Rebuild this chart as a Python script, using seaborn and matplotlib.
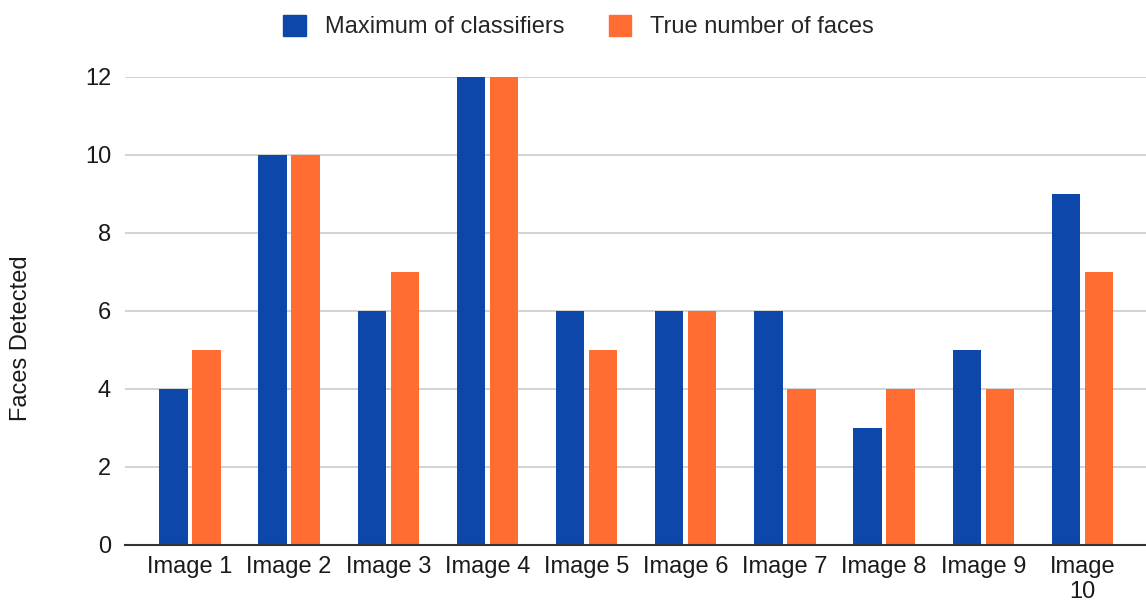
import matplotlib
matplotlib.use("Agg")
import matplotlib.pyplot as plt
import seaborn as sns
import pandas as pd
from matplotlib.patches import Patch

images = ["Image 1", "Image 2", "Image 3", "Image 4", "Image 5",
          "Image 6", "Image 7", "Image 8", "Image 9", "Image\n10"]
max_classifiers = [4, 10, 6, 12, 6, 6, 6, 3, 5, 9]
true_faces = [5, 10, 7, 12, 5, 6, 4, 4, 4, 7]
series_names = ["Maximum of classifiers", "True number of faces"]
colors = ["#0E47AA", "#FF6D33"]

df = pd.DataFrame({
    "image": images * 2,
    "value": max_classifiers + true_faces,
    "series": [series_names[0]] * len(images) + [series_names[1]] * len(images),
})

sns.set_style("white")
plt.rcParams["font.family"] = ["Liberation Sans", "DejaVu Sans"]

fig = plt.figure(figsize=(11.46, 6.10), dpi=100)
ax = fig.add_axes([0.109, 0.1066, 0.891, 0.7672])

sns.barplot(data=df, x="image", y="value", hue="series", palette=colors,
            width=0.665, gap=0.14, ax=ax, legend=False, saturation=1,
            linewidth=0)

ax.set_ylim(0, 12)
ax.set_xlim(-0.655, 9.64)
ax.set_yticks([0, 2, 4, 6, 8, 10, 12])
ax.yaxis.grid(True, color="#cccccc", linewidth=1.2)
ax.set_axisbelow(True)
for s in ["top", "right", "left"]:
    ax.spines[s].set_visible(False)
ax.spines["bottom"].set_color("#333333")
ax.spines["bottom"].set_linewidth(1.5)
ax.tick_params(axis="both", length=0, labelsize=17, colors="#1a1a1a")
ax.tick_params(axis="y", pad=10)
ax.tick_params(axis="x", pad=8)
ax.set_xlabel("")
ax.set_ylabel("")
fig.text(21 / 1146, 1 - 338 / 610, "Faces Detected", rotation=90,
         ha="center", va="center", fontsize=17, color="#1a1a1a")

handles = [Patch(facecolor=c, edgecolor=c) for c in colors]
fig.legend(handles, series_names, loc="upper center", bbox_to_anchor=(0.505, 1.01),
           ncol=2, frameon=False, fontsize=17, handlelength=0.95, handleheight=0.95,
           columnspacing=1.9, handletextpad=0.8)

fig.savefig("out.png", dpi=100)
